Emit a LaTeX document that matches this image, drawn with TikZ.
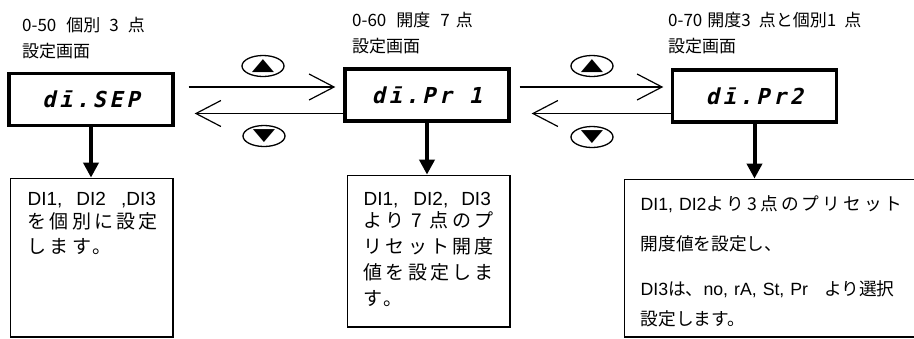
\documentclass[tikz,border=0pt]{standalone}
\usepackage{fontspec}
\setmainfont{Noto Sans CJK JP}
\newfontfamily\latin{Liberation Sans}
\newfontfamily\jpwide[LetterSpace=17]{Noto Sans CJK JP}
\newfontfamily\segfont[FakeSlant=0.22,LetterSpace=16]{DejaVu Sans Mono}
\newfontfamily\symfont{DejaVu Sans}
\usetikzlibrary{arrows.meta,positioning,calc,shapes.geometric}

\begin{document}
\begin{tikzpicture}[x=1pt,y=-1pt,
    disp/.style={draw, line width=3.3pt, minimum width=164pt, minimum height=52pt, inner sep=0pt,
      font=\segfont\bfseries\fontsize{22}{22}\selectfont},
    memo/.style={draw, line width=1.2pt, anchor=north west},
    title/.style={anchor=north west, align=left, inner sep=0pt, font=\fontsize{17}{26}\selectfont},
    key/.style={draw, ellipse, line width=1.3pt, minimum width=42pt, minimum height=21pt, inner sep=0pt,
      font=\symfont\fontsize{20}{20}\selectfont},
    nav/.style={line width=1.2pt, -{Straight Barb[length=25pt,width=26pt]}},
    down/.style={line width=4pt, -{Triangle[length=15pt,width=15pt]}}]
    \useasboundingbox (0,0) rectangle (914,338);
    % titles
    \node[title] (t1) at (22,17) {0-50\hspace{10pt}個別\hspace{9pt}3\hspace{9pt}点\\設定画面};
    \node[title] (t2) at (352,12) {0-60\hspace{10pt}開度\hspace{10pt}7\hspace{6pt}点\\設定画面};
    \node[title] (t3) at (668,12) {0-70\hspace{5pt}開度3\hspace{8pt}点と個別1\hspace{8pt}点\\設定画面};
    % displays
    \node[disp] (d1) at (91,99.5) {dī.SEP};
    \node[disp] (d2) at (427,95) {dī.Pr 1};
    \node[disp] (d3) at (754.5,96) {dī.Pr2};
    % keys
    \node[key] (up1) at (263,66) {\scalebox{1.45}[0.85]{▲}};
    \node[key] (dn1) at (264,136) {\scalebox{1.45}[0.85]{▼}};
    \node[key] (up2) at (592,66) {\scalebox{1.45}[0.85]{▲}};
    \node[key] (dn2) at (592,137) {\scalebox{1.45}[0.85]{▼}};
    % notes
    \node[memo, inner xsep=17.4pt, inner ysep=13.8pt] (m1) at (9.6,177.6) {\parbox[t][131.2pt][t]{128pt}{\fontsize{19}{25}\selectfont
      \mbox{\latin DI1,\hspace{14pt}DI2\hspace{15pt},DI3}\\[-2pt]
      \mbox{\jpwide を個別に設定}\\
      \mbox{\jpwide します。}}};
    \node[memo, inner xsep=16.4pt, inner ysep=16.8pt] (m2) at (346.6,174.6) {\parbox[t][118.2pt][t]{130pt}{\fontsize{19}{26}\selectfont
      \mbox{\latin DI1,\hspace{15pt}DI2,\hspace{13pt}DI3}\\[-4pt]
      \mbox{\jpwide より 7 点のプ}\\
      \mbox{\jpwide リセット開度}\\
      \mbox{\jpwide 値を設定しま}\\
      \mbox{\jpwide す。}}};
    \node[memo, inner xsep=16.4pt, inner ysep=16.4pt] (m3) at (623.6,178.6) {\parbox[t][125pt][t]{273.6pt}{\fontsize{17.7}{21}\selectfont
      \mbox{{\latin DI1,\hspace{6pt}DI2}{\jpwide より3点のプリセット}}\\[19pt]
      \mbox{開度値を設定し、}\\[24pt]
      \mbox{{\latin DI3}は、{\latin no,\hspace{6pt}rA,\hspace{6pt}St,\hspace{6pt}Pr}\hspace{16pt}より選択}\\[9pt]
      \mbox{設定します。}}};
    % connectors
    \coordinate (hi) at (0,87);
    \coordinate (lo) at (0,113.5);
    \draw[nav] ([xshift=14pt]d1.east |- hi) -- ([xshift=-8pt]d2.west |- hi);
    \draw[nav] (d2.west |- lo) -- ([xshift=20pt]d1.east |- lo);
    \draw[nav] ([xshift=9pt]d2.east |- hi) -- ([xshift=-7.5pt]d3.west |- hi);
    \draw[nav] (d3.west |- lo) -- ([xshift=21pt]d2.east |- lo);
    \draw[down] (d1.south) -- (d1.south |- m1.north);
    \draw[down] (d2.south) -- (d2.south |- m2.north);
    \draw[down] (d3.south) -- (d3.south |- m3.north);
\end{tikzpicture}
\end{document}
